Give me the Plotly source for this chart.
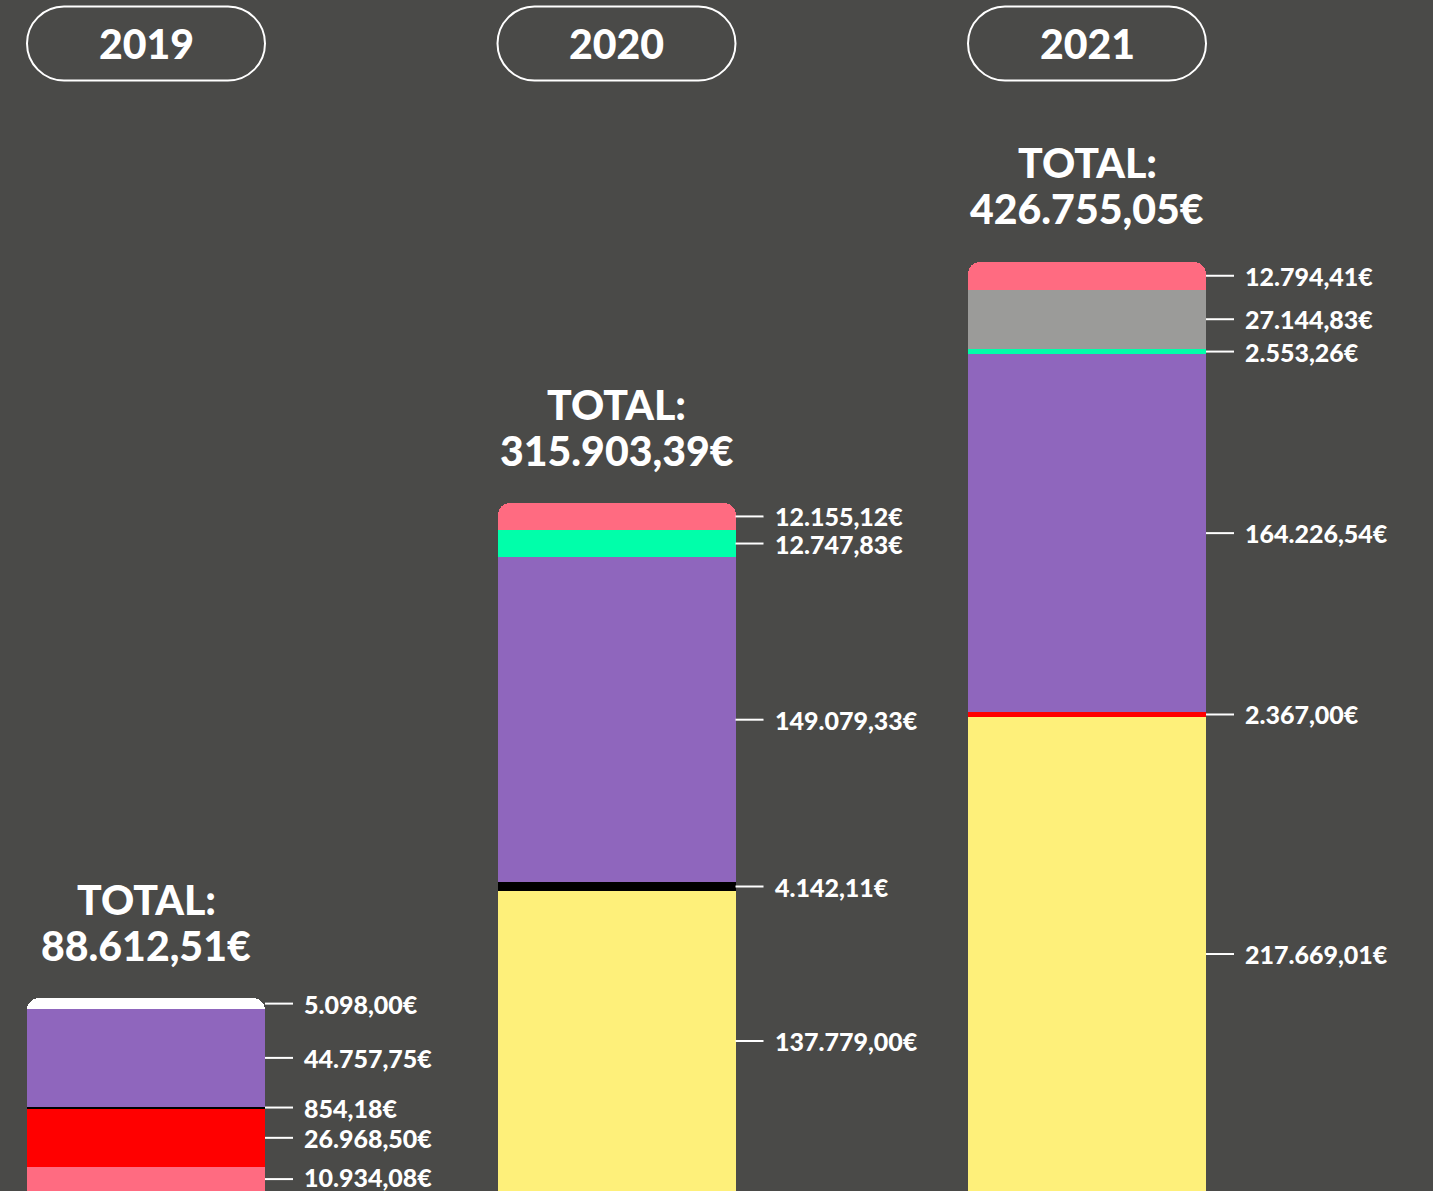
import plotly.graph_objects as go

# stacks are listed bottom -> top
years = ["2019", "2020", "2021"]
values_2019 = [10934.08, 26968.50, 854.18, 44757.75, 5098.00]
values_2020 = [137779.00, 4142.11, 149079.33, 12747.83, 12155.12]
values_2021 = [217669.01, 2367.00, 164226.54, 2553.26, 27144.83, 12794.41]

PINK, RED, BLACK, PURPLE, WHITE = "#ff6b81", "#ff0000", "#000000", "#8f66bd", "#ffffff"
YELLOW, MINT, GREY = "#fef07a", "#00ffaa", "#9b9b99"
colors_2019 = [PINK, RED, BLACK, PURPLE, WHITE]
colors_2020 = [YELLOW, BLACK, PURPLE, MINT, PINK]
colors_2021 = [YELLOW, RED, PURPLE, MINT, GREY, PINK]

stacks = [(values_2019, colors_2019), (values_2020, colors_2020), (values_2021, colors_2021)]

BG = "#4a4a48"
FONT = "Lato"
W, H = 1433, 1191
STEP = 470.5          # px between bar centres
BAR_W = 238 / STEP    # bar width in axis units
PX_PER_EUR = 0.0021773


def eur(v):
    s = f"{v:,.2f}"
    return s.replace(",", "X").replace(".", ",").replace("X", ".") + "€"


fig = go.Figure()
annotations = []
shapes = []

for i, (vals, cols) in enumerate(stacks):
    base = 0
    for v, c in zip(vals, cols):
        fig.add_trace(go.Bar(x=[i], y=[v], width=BAR_W, marker=dict(color=c, line=dict(width=0)),
                             showlegend=False, hoverinfo="skip"))
        mid = base + v / 2
        # keep labels near the bottom edge inside the page
        lift = max(0, 14 - mid * PX_PER_EUR)
        # tick line + value label on the right of the segment
        shapes.append(dict(type="line", xref="x", yref="y", xsizemode="pixel", xanchor=i + BAR_W / 2,
                           x0=0, x1=28, y0=mid, y1=mid, line=dict(color="white", width=2)))
        annotations.append(dict(x=i + BAR_W / 2, y=mid, xref="x", yref="y", text=eur(v),
                                showarrow=False, xanchor="left", yanchor="middle", xshift=37, yshift=lift,
                                font=dict(family=FONT, size=25, color="white", weight=900)))
        base += v
    total = sum(vals)
    # two-line total above the stack
    for txt, dy in [("TOTAL:", 99), (eur(total), 53)]:
        annotations.append(dict(x=i, y=total, xref="x", yref="y", text=txt,
                                showarrow=False, xanchor="center", yanchor="middle", yshift=dy,
                                font=dict(family=FONT, size=41, color="white", weight=900)))

    # year pill at the top
    annotations.append(dict(x=i, y=1 - 43.5 / H, xref="x", yref="paper", text=years[i],
                            showarrow=False, xanchor="center", yanchor="middle",
                            font=dict(family=FONT, size=41, color="white", weight=900)))
    hw, hh = 119, 37
    k = hh * 0.5523
    a = hw - hh
    path = (f"M {-a},{hh} L {a},{hh} C {a + k},{hh} {hw},{k} {hw},0 "
            f"C {hw},{-k} {a + k},{-hh} {a},{-hh} L {-a},{-hh} "
            f"C {-a - k},{-hh} {-hw},{-k} {-hw},0 C {-hw},{k} {-a - k},{hh} {-a},{hh} Z")
    shapes.append(dict(type="path", xref="x", yref="paper", xsizemode="pixel", ysizemode="pixel",
                       xanchor=i, yanchor=1 - 43.5 / H, path=path, line=dict(color="white", width=2)))

fig.update_layout(
    width=W, height=H,
    margin=dict(l=0, r=0, t=0, b=0),
    paper_bgcolor=BG, plot_bgcolor=BG,
    barmode="stack", barcornerradius=12, bargap=0,
    xaxis=dict(visible=False, range=[-146 / STEP, (W - 146) / STEP]),
    yaxis=dict(visible=False, range=[0, H / PX_PER_EUR]),
    annotations=annotations, shapes=shapes,
)

fig.write_html("out.html", config={"displayModeBar": False},
               post_script="document.body.style.margin='0';document.body.style.background='" + BG + "';")
